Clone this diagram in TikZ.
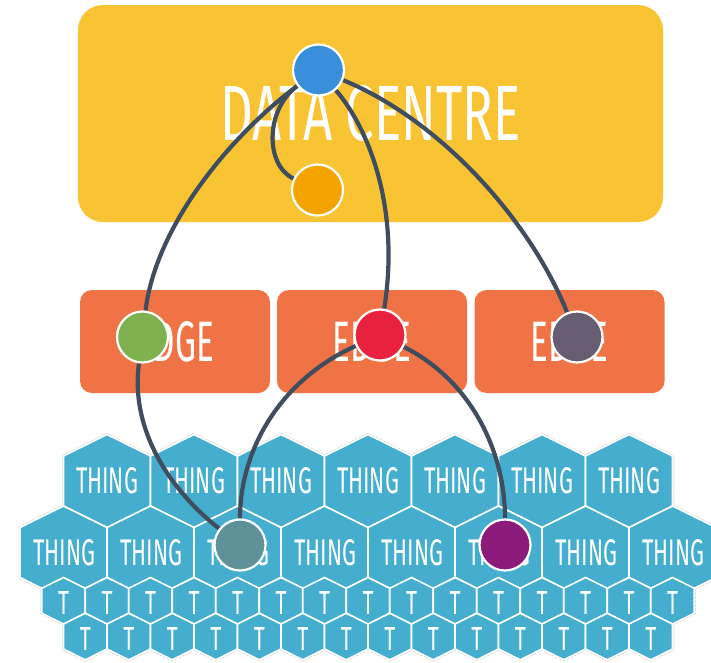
\documentclass[tikz,border=0pt]{standalone}
\usepackage{fontspec}
\setsansfont{Fira Sans}
\usepackage{graphicx}
\definecolor{dcyellow}{HTML}{F8C433}
\definecolor{edgeorange}{HTML}{F07346}
\definecolor{hexblue}{HTML}{45AECE}
\definecolor{linkgray}{HTML}{3F4D5F}
\definecolor{hubblue}{HTML}{3A8FDA}
\definecolor{huborange}{HTML}{F4A400}
\definecolor{hubgreen}{HTML}{7FB24E}
\definecolor{hubred}{HTML}{E8223E}
\definecolor{hubslate}{HTML}{665E70}
\definecolor{hubteal}{HTML}{5F919B}
\definecolor{hubpurple}{HTML}{8C1A7B}
\pgfdeclarelayer{boxes}
\pgfdeclarelayer{links}
\pgfsetlayers{boxes,links,main}
\newcommand{\edgetext}{\resizebox{78pt}{40pt}{\sffamily EDGE}}
\tikzset{
  bighex/.pic={\path[pic actions] (0,-46.5) -- (43.5,-25) -- (43.5,25) -- (0,46.5) -- (-43.5,25) -- (-43.5,-25) -- cycle;},
  smallhex/.pic={\path[pic actions] (0,-23.25) -- (21.75,-12.5) -- (21.75,12.5) -- (0,23.25) -- (-21.75,12.5) -- (-21.75,-12.5) -- cycle;},
  hexshadow/.style={draw=gray!30, densely dotted, line width=3pt},
  hexfill/.style={fill=hexblue, draw=white, line width=1.6pt},
  hexlabel/.style={text=white, inner sep=0pt, font=\sffamily},
  edgebox/.style={fill=edgeorange, rounded corners=12pt, minimum width=190pt, minimum height=103pt, text=white},
  hub/.style={circle, draw=white, line width=2.2pt, minimum size=51pt, inner sep=0pt},
  link/.style={draw=linkgray, line width=4.2pt}
}
\begin{document}
\begin{tikzpicture}[x=1pt, y=-1pt]
             \useasboundingbox (0,0) rectangle (711,662);
             \begin{pgfonlayer}{boxes}
             \node[fill=dcyellow, rounded corners=25pt, minimum width=585pt, minimum height=217pt, text=white] (centre) at (370.5,113.5) {\resizebox{300pt}{55pt}{\sffamily DATA CENTRE}};
             \node[edgebox] (edgeA) at (175,341.5) {\edgetext};
             \node[edgebox] (edgeB) at (372,341.5) {\edgetext};
             \node[edgebox] (edgeC) at (569.5,341.5) {\edgetext};
             \foreach \look in {hexshadow, hexfill}{
               \foreach \i in {0,...,6} \pic[\look] at ({107+87*\i},481) {bighex};
               \foreach \i in {0,...,7} \pic[\look] at ({63.5+87*\i},552.5) {bighex};
               \foreach \i in {0,...,14} \pic[\look] at ({63.5+43.5*\i},600.75) {smallhex};
               \foreach \i in {0,...,13} \pic[\look] at ({85.25+43.5*\i},636.5) {smallhex};
             }
             \foreach \i in {0,...,6} \node[hexlabel] (thingA\i) at ({107+87*\i},481) {\resizebox{62pt}{26pt}{THING}};
             \foreach \i in {0,...,7} \node[hexlabel] (thingB\i) at ({64.5+87*\i},553) {\resizebox{62pt}{26pt}{THING}};
             \foreach \i in {0,...,14} \node[hexlabel] (tA\i) at ({63.5+43.5*\i},603) {\resizebox{11pt}{23pt}{T}};
             \foreach \i in {0,...,13} \node[hexlabel] (tB\i) at ({85.25+43.5*\i},639) {\resizebox{11pt}{23pt}{T}};
             \end{pgfonlayer}
             \node[hub, fill=hubblue] (cloud) at (318.5,70) {};
             \node[hub, fill=huborange] (store) at (317.5,190) {};
             \node[hub, fill=hubgreen] (gateA) at (142.5,337) {};
             \node[hub, fill=hubred] (gateB) at (380,335) {};
             \node[hub, fill=hubslate] (gateC) at (577,337) {};
             \node[hub, fill=hubteal] (sensorA) at (240,545) {};
             \node[hub, fill=hubpurple] (sensorB) at (505,545) {};
             \begin{pgfonlayer}{links}
             \draw[link] (cloud) .. controls (225,140) and (155,230) .. (gateA);
             \draw[link] (cloud) .. controls (265,110) and (265,165) .. (store);
             \draw[link] (cloud) .. controls (370,130) and (400,210) .. (gateB);
             \draw[link] (cloud) .. controls (440,120) and (530,220) .. (gateC);
             \draw[link] (gateA) .. controls (130,430) and (170,490) .. (sensorA);
             \draw[link] (gateB) .. controls (280,380) and (240,450) .. (sensorA);
             \draw[link] (gateB) .. controls (470,380) and (505,450) .. (sensorB);
             \end{pgfonlayer}
\end{tikzpicture}
\end{document}
